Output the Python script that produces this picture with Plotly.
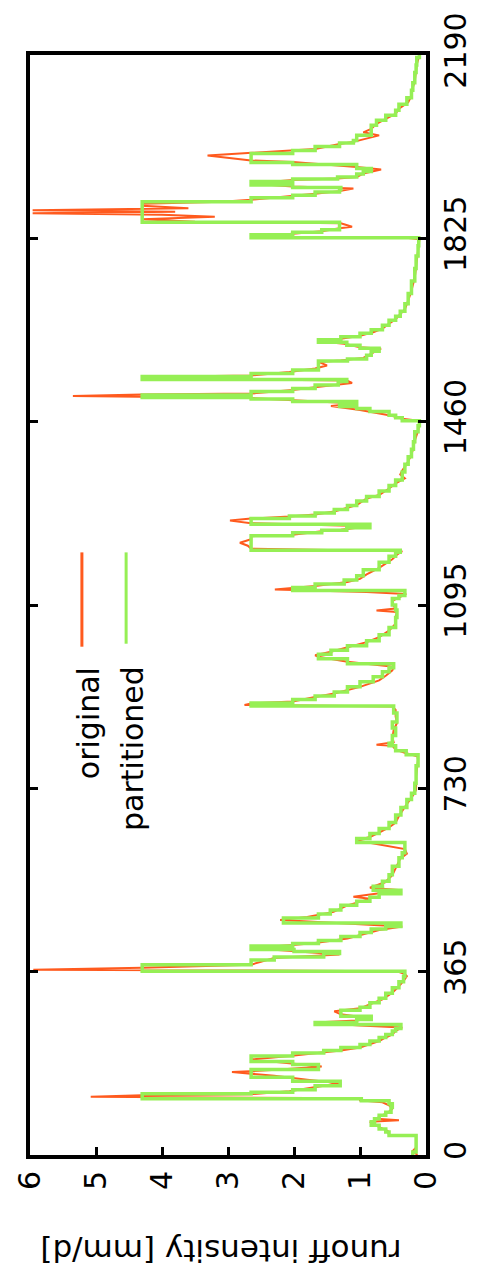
import plotly.graph_objects as go

# ---- data: original runoff (day, mm/d) ----
orig_day = [0, 8, 15, 38, 40, 48, 55, 62, 66, 69, 72, 76, 85, 92, 99, 105, 109, 113, 116, 119, 121, 127, 135, 143, 150, 158, 165, 170, 176, 182, 190, 197, 204, 208, 214, 220, 227, 234, 240, 247, 254, 258, 264, 268, 272, 280, 286, 292, 300, 310, 323, 336, 350, 356,
            361, 366, 369, 373, 379, 385, 392, 399, 405, 412, 418, 422, 431, 441, 448, 455, 461, 468, 474, 484, 497, 504, 510, 514, 520, 527, 532, 543, 557, 570, 590, 600, 609, 626, 633, 642, 652, 662, 675, 689, 702, 721,
            728, 754, 787, 794, 800, 807, 815, 817, 822, 830, 846, 860, 873, 886, 893, 896, 899, 903, 912, 919, 932, 945, 955, 965, 972, 982, 992, 995, 1002, 1011, 1021, 1031, 1044, 1058, 1071, 1081, 1084, 1088, 1097,
            1103, 1110, 1117, 1121, 1126, 1133, 1141, 1147, 1156, 1169, 1186, 1195, 1202, 1207, 1213, 1219, 1226, 1232, 1235, 1242, 1245, 1252, 1258, 1263, 1267, 1271, 1275, 1281, 1288, 1294, 1307, 1314, 1327, 1337, 1347, 1355, 1363, 1376, 1389, 1403, 1422, 1442, 1455, 1462,
            1466, 1470, 1473, 1483, 1491, 1496, 1503, 1507, 1511, 1514, 1516, 1523, 1529, 1537, 1542, 1546, 1549, 1552, 1559, 1566, 1572, 1579, 1582, 1587, 1595, 1602, 1605, 1608, 1615, 1620, 1625, 1631, 1638, 1645, 1655, 1664, 1671, 1684, 1701, 1721, 1747, 1767, 1793, 1813, 1823,
            1826, 1828, 1834, 1839, 1845, 1848, 1855, 1858, 1863, 1868, 1872, 1875, 1878, 1881, 1885, 1890, 1894, 1898, 1902, 1909, 1914, 1919, 1924, 1928, 1934, 1941, 1944, 1947, 1954, 1962, 1967, 1977, 1980, 1990, 1995, 2003, 2013, 2017, 2030, 2036, 2043, 2053, 2063, 2073, 2083, 2096, 2109, 2125, 2138, 2158, 2171, 2190]
orig_val = [0.13, 0.20, 0.15, 0.15, 0.56, 0.58, 0.70, 0.80, 0.85, 0.41, 0.75, 0.71, 0.57, 0.51, 0.56, 0.66, 1.00, 1.00, 5.08, 4.30, 2.65, 2.07, 1.68, 1.31, 1.80, 2.30, 2.94, 2.20, 1.58, 2.07, 2.65, 2.07, 1.50, 1.29, 1.00, 0.85, 0.71, 0.61, 0.51, 0.46, 0.36, 1.00, 1.68, 1.05, 0.83, 1.29, 1.39, 1.00, 0.85, 0.66, 0.51, 0.41, 0.32, 0.29,
            0.33, 0.45, 5.95, 4.30, 2.65, 2.50, 2.30, 1.31, 2.00, 2.65, 2.02, 1.68, 1.19, 0.90, 0.71, 0.36, 1.20, 2.21, 1.80, 1.40, 1.19, 1.00, 0.85, 1.10, 0.75, 0.37, 0.85, 0.62, 0.51, 0.46, 0.39, 0.29, 0.32, 1.05, 0.85, 0.71, 0.56, 0.46, 0.41, 0.34, 0.27, 0.17,
            0.15, 0.15, 0.12, 0.13, 0.30, 0.46, 0.51, 0.75, 0.49, 0.51, 0.49, 0.44, 0.46, 0.46, 0.51, 2.75, 2.65, 2.02, 1.68, 1.39, 1.00, 0.71, 0.60, 0.51, 0.49, 1.19, 1.63, 1.68, 1.44, 1.19, 0.90, 0.71, 0.56, 0.46, 0.46, 0.44, 0.75, 0.46, 0.51,
            0.51, 0.41, 0.30, 0.90, 2.29, 1.68, 1.19, 1.00, 0.90, 0.71, 0.51, 0.44, 0.36, 2.65, 2.70, 2.82, 2.65, 2.65, 2.02, 1.58, 1.29, 0.86, 2.65, 2.97, 2.65, 2.07, 1.68, 1.39, 1.19, 1.05, 0.90, 0.71, 0.56, 0.46, 0.32, 0.39, 0.36, 0.29, 0.24, 0.20, 0.17, 0.12, 0.10, 0.12,
            0.36, 0.46, 0.56, 1.00, 1.44, 1.05, 2.02, 2.65, 5.35, 4.30, 2.65, 2.02, 1.65, 1.12, 1.20, 4.30, 4.30, 2.65, 2.07, 1.68, 1.50, 1.63, 1.29, 0.95, 0.83, 0.75, 0.68, 1.00, 1.24, 1.63, 1.29, 1.00, 0.80, 0.66, 0.56, 0.46, 0.41, 0.32, 0.27, 0.22, 0.17, 0.15, 0.12, 0.11, 0.10,
            0.30, 2.65, 2.02, 1.58, 1.31, 1.12, 1.29, 3.50, 4.30, 3.20, 4.00, 5.96, 3.80, 5.96, 3.60, 4.30, 4.30, 3.09, 2.65, 2.02, 1.68, 1.31, 1.10, 2.02, 2.65, 2.02, 1.34, 1.05, 0.95, 0.68, 1.05, 2.02, 2.65, 3.31, 2.65, 1.68, 1.31, 1.10, 0.71, 0.95, 0.83, 0.75, 0.61, 0.46, 0.41, 0.27, 0.22, 0.20, 0.17, 0.15, 0.14, 0.10]

# ---- data: partitioned runoff (step start day, mm/d) ----
part_day = [0, 6, 39, 46, 52, 59, 66, 72, 79, 85, 95, 102, 108, 112, 122, 125, 130, 138, 147, 155, 170, 180, 186, 197, 203, 208, 214, 220, 227, 234, 240, 247, 252, 260, 264, 270, 276, 288, 294, 303, 312, 322, 333, 345, 356,
            366, 379, 388, 394, 401, 405, 409, 416, 421, 427, 435, 443, 450, 455, 462, 472, 480, 488, 497, 505, 513, 520, 527, 535, 545, 558, 575, 592, 602, 622, 630, 640, 650, 662, 677, 692, 708, 720,
            740, 775, 797, 805, 815, 820, 835, 850, 862, 880, 894, 900, 907, 914, 922, 932, 942, 952, 962, 970, 978, 988, 997, 1005, 1014, 1024, 1036, 1050, 1070, 1085, 1095,
            1108, 1114, 1124, 1130, 1137, 1145, 1153, 1165, 1180, 1192, 1200, 1204, 1233, 1239, 1244, 1249, 1256, 1267, 1272, 1278, 1285, 1293, 1302, 1311, 1322, 1333, 1344, 1360, 1375, 1390, 1405, 1420, 1440, 1452,
            1462, 1468, 1473, 1480, 1486, 1490, 1496, 1500, 1505, 1508, 1513, 1520, 1526, 1533, 1540, 1544, 1550, 1556, 1563, 1575, 1581, 1585, 1592, 1600, 1606, 1612, 1618, 1623, 1629, 1636, 1643, 1652, 1662, 1670, 1680, 1695, 1715, 1740, 1765, 1790, 1810,
            1826, 1832, 1837, 1842, 1857, 1898, 1906, 1911, 1917, 1922, 1926, 1931, 1938, 1943, 1947, 1953, 1958, 1964, 1972, 1976, 1994, 2000, 2008, 2015, 2020, 2030, 2045, 2050, 2060, 2070, 2080, 2092, 2105, 2120, 2135, 2155, 2170, 2185, 2190]
part_val = [0.20, 0.15, 0.56, 0.61, 0.71, 0.83, 0.78, 0.71, 0.61, 0.53, 0.51, 0.56, 0.98, 4.30, 2.65, 2.02, 1.68, 1.30, 2.02, 2.65, 1.63, 2.02, 2.65, 2.02, 1.55, 1.29, 1.00, 0.85, 0.71, 0.61, 0.51, 0.46, 0.38, 1.68, 1.05, 0.83, 1.29, 1.00, 0.85, 0.71, 0.61, 0.51, 0.41, 0.34, 0.32,
            4.30, 2.65, 2.30, 1.55, 1.31, 2.00, 2.65, 2.02, 1.63, 1.29, 1.00, 0.83, 0.61, 0.38, 2.16, 1.63, 1.45, 1.29, 1.05, 0.85, 0.71, 0.38, 0.80, 0.66, 0.56, 0.51, 0.41, 0.36, 0.32, 1.05, 0.85, 0.71, 0.56, 0.46, 0.38, 0.29, 0.22, 0.17,
            0.15, 0.12, 0.30, 0.46, 0.56, 0.51, 0.46, 0.51, 0.44, 0.49, 2.65, 2.02, 1.68, 1.39, 1.19, 1.00, 0.80, 0.66, 0.56, 0.49, 1.19, 1.63, 1.44, 1.19, 0.90, 0.71, 0.56, 0.46, 0.44, 0.46, 0.51,
            0.41, 0.32, 2.02, 1.68, 1.24, 1.05, 0.95, 0.71, 0.56, 0.46, 0.39, 2.65, 2.02, 1.58, 1.20, 0.85, 2.65, 2.07, 1.68, 1.39, 1.19, 1.05, 0.90, 0.71, 0.56, 0.46, 0.36, 0.32, 0.27, 0.22, 0.19, 0.17, 0.12, 0.10,
            0.36, 0.46, 0.56, 0.85, 1.05, 1.31, 1.05, 2.02, 2.65, 4.30, 2.65, 2.02, 1.68, 1.33, 1.20, 4.30, 2.65, 2.02, 1.63, 1.63, 1.19, 0.90, 0.83, 0.71, 1.00, 1.20, 1.63, 1.29, 1.00, 0.83, 0.66, 0.56, 0.46, 0.39, 0.32, 0.27, 0.22, 0.17, 0.15, 0.12, 0.11,
            2.65, 2.02, 1.58, 1.31, 4.30, 2.65, 2.02, 1.68, 1.31, 1.29, 2.02, 2.65, 2.02, 1.34, 1.05, 0.95, 0.83, 1.05, 2.02, 2.65, 2.02, 1.68, 1.31, 1.10, 1.05, 0.83, 0.83, 0.75, 0.61, 0.46, 0.41, 0.29, 0.22, 0.20, 0.17, 0.15, 0.14, 0.10, 0.10]

day_ticks = [0, 365, 730, 1095, 1460, 1825, 2190]
runoff_ticks = [0, 1, 2, 3, 4, 5, 6]
series_names = ["original", "partitioned"]
colors = ["#ff5a1e", "#96ef55"]

FONT = "DejaVu Sans"
L, R, T, B = 23, 50, 47, 129
W, H = 485, 1284
pw, ph = W - L - R, H - T - B


def px(xp):
    return (xp - L) / pw


def py(yp):
    return (H - B - yp) / ph


fig = go.Figure()
fig.add_trace(go.Scatter(x=orig_val, y=orig_day, mode="lines", name=series_names[0],
                         line=dict(color=colors[0], width=2), showlegend=False))
fig.add_trace(go.Scatter(x=part_val, y=part_day, mode="lines", name=series_names[1],
                         line=dict(color=colors[1], width=3.5, shape="vh"), showlegend=False))

fig.update_xaxes(range=[6, 0], tickvals=runoff_ticks, ticktext=[str(t) for t in runoff_ticks],
                 tickangle=-90, ticks="inside", ticklen=8, tickwidth=3, tickcolor="black",
                 showline=True, linewidth=4, linecolor="black", mirror=True,
                 showgrid=False, zeroline=False,
                 tickfont=dict(family=FONT, size=30, color="black"))
fig.update_yaxes(range=[0, 2190], tickvals=day_ticks, ticktext=[str(t) for t in day_ticks],
                 side="right", tickangle=-90, ticks="inside", ticklen=8, tickwidth=3, tickcolor="black",
                 showline=True, linewidth=4, linecolor="black", mirror="ticks",
                 showgrid=False, zeroline=False,
                 tickfont=dict(family=FONT, size=30, color="black"))

annotations = [
    dict(text="runoff intensity [mm/d]", xref="paper", yref="paper", x=px(222), y=py(1251),
         xanchor="center", yanchor="middle", textangle=180, showarrow=False,
         font=dict(family=FONT, size=31, color="black")),
    dict(text=series_names[0], xref="paper", yref="paper", x=px(84), y=py(662),
         xanchor="center", yanchor="top", textangle=-90, showarrow=False,
         font=dict(family=FONT, size=30, color="black")),
    dict(text=series_names[1], xref="paper", yref="paper", x=px(129), y=py(660),
         xanchor="center", yanchor="top", textangle=-90, showarrow=False,
         font=dict(family=FONT, size=30, color="black")),
]
shapes = [
    dict(type="line", xref="paper", yref="paper", x0=px(77), x1=px(77), y0=py(548), y1=py(643),
         line=dict(color=colors[0], width=3)),
    dict(type="line", xref="paper", yref="paper", x0=px(123), x1=px(123), y0=py(548), y1=py(640),
         line=dict(color=colors[1], width=3)),
]

fig.update_layout(width=W, height=H, margin=dict(l=L, r=R, t=T, b=B),
                  paper_bgcolor="white", plot_bgcolor="white",
                  annotations=annotations, shapes=shapes, showlegend=False)
fig.write_html("out.html")
